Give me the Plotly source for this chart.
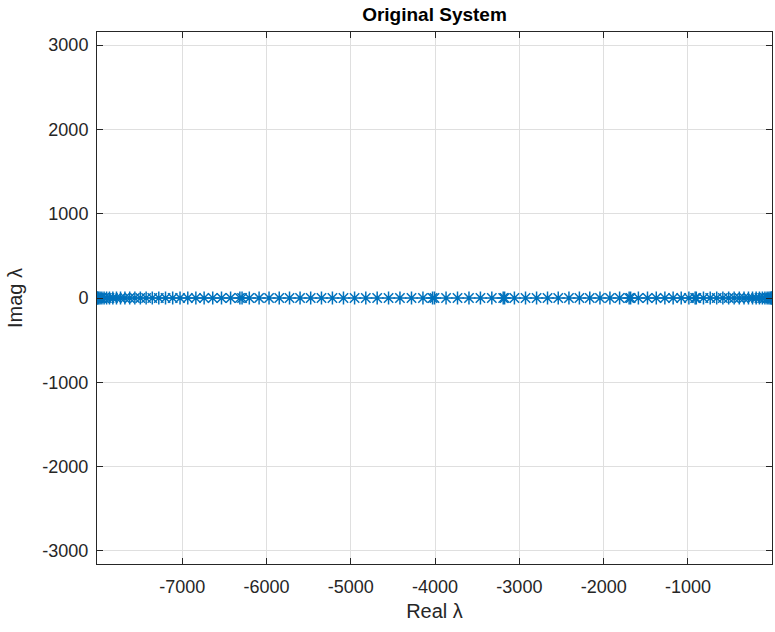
import plotly.graph_objects as go

# Eigenvalues of the original system (real parts; all lie on the real axis)
real_part = [
    -8011, -8009, -8002, -7990, -7974, -7953, -7927, -7897, -7863, -7823,
    -7780, -7732, -7680, -7623, -7562, -7497, -7428, -7355, -7278, -7198,
    -7113, -7026, -6934, -6838, -6740, -6638, -6534, -6426, -6316, -6290,
    -6204, -6088, -5970, -5849, -5727, -5602, -5476, -5348, -5218, -5087,
    -4955, -4822, -4687, -4552, -4417, -4280, -4144, -4030, -4007, -3870,
    -3734, -3598, -3462, -3327, -3192, -3175, -3059, -2927, -2796, -2666,
    -2539, -2412, -2288, -2165, -2044, -1926, -1811, -1698, -1680, -1588,
    -1480, -1376, -1274, -1176, -1080, -989, -915, -901, -816, -736,
    -659, -586, -517, -452, -391, -335, -282, -234, -191, -152,
    -117, -87, -61, -40, -24, -12, -5, -3,
]
imag_part = [0.0] * len(real_part)

x_ticks = [-7000, -6000, -5000, -4000, -3000, -2000, -1000]
x_tick_text = ["-7000", "-6000", "-5000", "-4000", "-3000", "-2000", "-1000"]
y_ticks = [-3000, -2000, -1000, 0, 1000, 2000, 3000]
y_tick_text = ["-3000", "-2000", "-1000", "0", "1000", "2000", "3000"]

x_range = [min(real_part), max(real_part)]
y_range = [-3156, 3156]

font_family = "Liberation Sans, Arial, Helvetica, sans-serif"
ink = "#262626"
grid = "#DFDFDF"

fig = go.Figure(
    go.Scatter(
        x=real_part,
        y=imag_part,
        mode="markers",
        marker=dict(
            symbol="asterisk-open",
            size=11,
            color="#0072BD",
            line=dict(color="#0072BD", width=1.5),
        ),
        showlegend=False,
    )
)

axis_common = dict(
    showgrid=True,
    gridcolor=grid,
    gridwidth=1,
    zeroline=False,
    showline=True,
    linecolor=ink,
    linewidth=1,
    mirror="ticks",
    ticks="inside",
    ticklen=6,
    tickwidth=1,
    tickcolor=ink,
    tickfont=dict(family=font_family, size=18, color=ink),
)

fig.update_layout(
    width=775,
    height=632,
    margin=dict(l=97, r=3, t=32, b=68),
    paper_bgcolor="white",
    plot_bgcolor="white",
    title=dict(
        text="<b>Original System</b>",
        x=0.5,
        xref="paper",
        xanchor="center",
        y=1 - 14 / 632,
        yref="container",
        yanchor="middle",
        font=dict(family=font_family, size=19, color="#000000"),
    ),
    xaxis=dict(
        range=x_range,
        tickvals=x_ticks,
        ticktext=x_tick_text,
        ticklabelstandoff=6,
        title=dict(text="Real λ", standoff=8,
                   font=dict(family=font_family, size=20, color=ink)),
        **axis_common,
    ),
    yaxis=dict(
        range=y_range,
        tickvals=y_ticks,
        ticktext=y_tick_text,
        ticklabelstandoff=4,
        title=dict(text="Imag λ", standoff=14,
                   font=dict(family=font_family, size=20, color=ink)),
        **axis_common,
    ),
)

fig.write_html("out.html")
